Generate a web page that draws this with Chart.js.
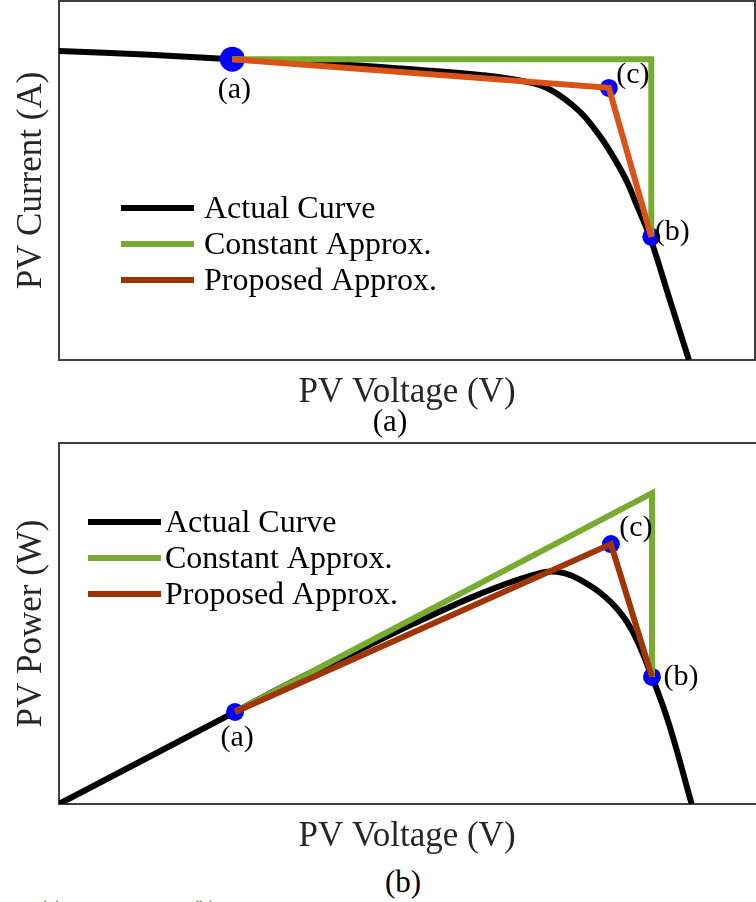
<!DOCTYPE html>
<html>
<head>
<meta charset="utf-8">
<script src="https://cdn.jsdelivr.net/npm/chart.js@4.4.0/dist/chart.umd.min.js"></script>
<style>
  html, body { margin: 0; padding: 0; background: #fff; overflow: hidden; }
  body { width: 756px; height: 902px; position: relative; font-family: 'Liberation Serif', 'Times New Roman', serif; }
  .box { position: absolute; left: 0; width: 756px; }
  .cap { position: absolute; font-size: 31px; line-height: 1; color: #000; transform: translateX(-50%); white-space: nowrap; }
  .cut { position: absolute; font-size: 20px; line-height: 1; color: #555; }
</style>
</head>
<body>
<div class="box" style="top:0;height:414px"><canvas id="ivChart"></canvas></div>
<div class="cap" style="left:390px;top:405px">(a)</div>
<div class="box" style="top:430px;height:428px"><canvas id="pvChart"></canvas></div>
<div class="cap" style="left:403px;top:866px">(b)</div>
<div class="cut" style="left:40px;top:898px">(a)</div>
<div class="cut" style="left:192px;top:898px">(b)</div>

<script>
// I-V curve, voltage and current on a 0-100 scale
const ivVoltage = [0, 13.1, 24.9, 38.9, 51.9, 60.5, 67.4, 70.7, 74.6, 77.4, 79.3, 81.5, 83.0, 84.9, 87.9, 90.5];
const ivCurrent = [86.1, 85.0, 83.8, 82.5, 80.8, 79.4, 77.4, 75.2, 69.6, 63.2, 57.7, 50.1, 43.2, 34.3, 15.9, 0];

// P-V curve
const pvVoltage = [0, 25.3, 34.6, 43.2, 50.9, 60.5, 67.7, 71.6, 75.7, 79.4, 82.3, 85.2, 87.6, 90.9];
const pvPower = [0, 25.5, 34.9, 42.7, 49.9, 58.2, 63.2, 64.3, 61.2, 55.7, 48.2, 35.2, 22.4, 0];

// operating points (a), (c), (b) -- also the proposed approximation path
const pointNames = ['(a)', '(c)', '(b)'];
const ivPointV = [24.9, 79.0, 85.1];
const ivPointI = [83.8, 75.8, 34.3];
const pvPointV = [25.3, 79.3, 85.2];
const pvPointP = [25.5, 72.0, 35.2];

// constant approximation: (a) -> corner -> (b)
const ivConstV = [24.9, 85.1, 85.1];
const ivConstI = [83.8, 83.8, 34.3];
const pvConstV = [25.3, 85.2, 85.2];
const pvConstP = [25.5, 86.1, 35.2];

const legendNames = ['Actual Curve', 'Constant Approx.', 'Proposed Approx.'];
const legendColors = ['#000000', '#77AC30', '#993300'];

const SERIF = "'Liberation Serif', 'Times New Roman', serif";

function xy(xs, ys) {
  return xs.map((x, i) => ({ x: x, y: ys[i] }));
}

// box around the plot area
const framePlugin = {
  id: 'frame',
  beforeDatasetsDraw(chart, args, opts) {
    const { left, right, top, bottom } = chart.chartArea;
    const ctx = chart.ctx;
    ctx.save();
    ctx.strokeStyle = '#404040';
    ctx.lineWidth = 2;
    ctx.beginPath();
    if (opts.closed) {
      ctx.rect(left, top, right - left, bottom - top);
    } else {
      ctx.moveTo(right + 2, top);
      ctx.lineTo(left, top);
      ctx.lineTo(left, bottom);
      ctx.lineTo(right + 2, bottom);
    }
    ctx.stroke();
    ctx.restore();
  }
};

// legend drawn inside the plot
const innerLegend = {
  id: 'innerLegend',
  afterDatasetsDraw(chart, args, opts) {
    const { left, top } = chart.chartArea;
    const ctx = chart.ctx;
    ctx.save();
    ctx.font = '32px ' + SERIF;
    ctx.textAlign = 'left';
    ctx.textBaseline = 'alphabetic';
    legendNames.forEach((name, i) => {
      const base = top + opts.y + i * opts.rowGap;
      const x0 = left + opts.x;
      ctx.strokeStyle = legendColors[i];
      ctx.lineWidth = 6;
      ctx.beginPath();
      ctx.moveTo(x0, base - 10);
      ctx.lineTo(x0 + opts.lineLen, base - 10);
      ctx.stroke();
      ctx.fillStyle = '#000';
      ctx.fillText(name, x0 + opts.lineLen + opts.gap, base);
    });
    ctx.restore();
  }
};

// (a) (b) (c) tags next to the blue markers
const pointTags = {
  id: 'pointTags',
  afterDatasetsDraw(chart, args, opts) {
    const meta = chart.getDatasetMeta(opts.dataset);
    const ctx = chart.ctx;
    ctx.save();
    ctx.font = '30px ' + SERIF;
    ctx.fillStyle = '#000';
    ctx.textAlign = 'center';
    ctx.textBaseline = 'middle';
    meta.data.forEach((pt, i) => {
      const off = opts.offsets[i];
      ctx.fillText(pointNames[i], pt.x + off[0], pt.y + off[1]);
    });
    ctx.restore();
  }
};

function makeChart(id, cfg) {
  return new Chart(document.getElementById(id), {
    type: 'scatter',
    data: {
      datasets: [
        {
          label: 'Proposed Approx.',
          data: cfg.proposed,
          showLine: true,
          borderColor: cfg.proposedColor,
          borderWidth: 6,
          borderJoinStyle: 'miter',
          pointRadius: 0,
          order: 1
        },
        {
          label: 'Constant Approx.',
          data: cfg.constant,
          showLine: true,
          borderColor: '#77AC30',
          borderWidth: 6,
          borderJoinStyle: 'miter',
          pointRadius: 0,
          order: 2
        },
        {
          label: 'Points',
          data: cfg.proposed,
          showLine: false,
          pointRadius: cfg.radii,
          pointBackgroundColor: '#0000FF',
          pointBorderWidth: 0,
          order: 3
        },
        {
          label: 'Actual Curve',
          data: cfg.actual,
          showLine: true,
          borderColor: '#000000',
          borderWidth: 6,
          tension: 0.4,
          pointRadius: 0,
          order: 4
        }
      ]
    },
    options: {
      responsive: true,
      maintainAspectRatio: false,
      animation: false,
      events: [],
      layout: { padding: cfg.padding, autoPadding: false },
      plugins: {
        legend: { display: false },
        tooltip: { enabled: false },
        frame: { closed: cfg.closed },
        innerLegend: cfg.legend,
        pointTags: { dataset: 2, offsets: cfg.tagOffsets }
      },
      scales: {
        x: {
          type: 'linear', min: 0, max: 100,
          grid: { display: false }, border: { display: false }, ticks: { display: false },
          title: { display: true, text: 'PV Voltage (V)', color: '#262626',
                   font: { family: SERIF, size: 35 }, padding: { top: 0, bottom: 0 } },
          afterFit: s => { s.height = 54; }
        },
        y: {
          type: 'linear', min: 0, max: 100,
          grid: { display: false }, border: { display: false }, ticks: { display: false },
          title: { display: true, text: cfg.yTitle, color: '#262626',
                   font: { family: SERIF, size: 35 }, padding: { top: 11, bottom: 0 } },
          afterFit: s => { s.width = 59; }
        }
      }
    },
    plugins: [framePlugin, innerLegend, pointTags]
  });
}

makeChart('ivChart', {
  actual: xy(ivVoltage, ivCurrent),
  constant: xy(ivConstV, ivConstI),
  proposed: xy(ivPointV, ivPointI),
  proposedColor: '#D95319',
  radii: [12.5, 9, 9],
  padding: { top: 1, right: 1, left: 0, bottom: 0 },
  closed: true,
  yTitle: 'PV Current (A)',
  legend: { x: 62, y: 217, rowGap: 36, lineLen: 73, gap: 10 },
  tagOffsets: [[2, 31], [24, -13], [21, -5]]
});

makeChart('pvChart', {
  actual: xy(pvVoltage, pvPower),
  constant: xy(pvConstV, pvConstP),
  proposed: xy(pvPointV, pvPointP),
  proposedColor: '#A03508',
  radii: [9, 9, 9],
  padding: { top: 13, right: 1, left: 0, bottom: 0 },
  closed: false,
  yTitle: 'PV Power (W)',
  legend: { x: 29, y: 89, rowGap: 36, lineLen: 73, gap: 4 },
  tagOffsets: [[2, 26], [25, -16], [29, 0]]
});
</script>
</body>
</html>
